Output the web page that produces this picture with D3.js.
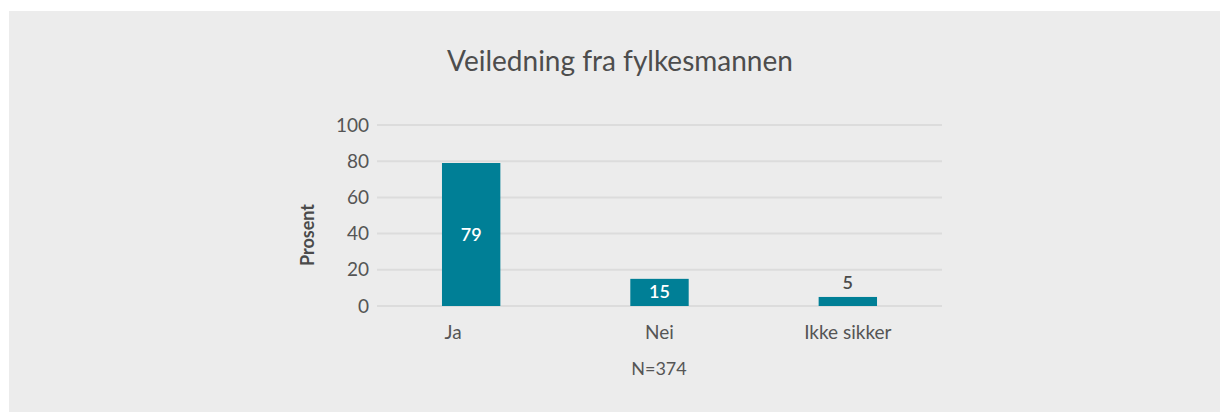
<!DOCTYPE html>
<html>
<head>
<meta charset="utf-8">
<script src="https://cdn.jsdelivr.net/npm/d3@7/dist/d3.min.js"></script>
<style>
  body { margin: 0; background: #ffffff; }
  svg { display: block; font-family: Lato, "Open Sans", sans-serif; }
</style>
</head>
<body>
<svg id="chart"></svg>
<script>
// ---------- data ----------
var categories = ["Ja", "Nei", "Ikke sikker"];
var values = [79, 15, 5];
var yTicks = [0, 20, 40, 60, 80, 100];
var titleText = "Veiledning fra fylkesmannen";
var yLabel = "Prosent";
var noteText = "N=374";

// ---------- setup ----------
var screen = {width: 1220, height: 412};
var margins = {left: 377, right: 278, top: 125, bottom: 106};
var graph = {
  width: screen.width - margins.left - margins.right,
  height: screen.height - margins.top - margins.bottom
};

var svg = d3.select("#chart")
  .attr("width", screen.width)
  .attr("height", screen.height);

// grey panel
svg.append("rect")
  .attr("x", 9).attr("y", 11)
  .attr("width", screen.width - 9)
  .attr("height", screen.height - 11)
  .attr("fill", "#ececec");

svg.append("text")
  .attr("x", 620).attr("y", 71)
  .attr("text-anchor", "middle")
  .attr("font-size", 28)
  .attr("fill", "#4d4d4d")
  .text(titleText);

var xScale = d3.scaleBand()
  .domain(categories)
  .range([0, graph.width])
  .paddingInner(0.69)
  .paddingOuter(0.345);

var yScale = d3.scaleLinear()
  .domain([0, 100])
  .range([graph.height, 0]);

var target = svg.append("g")
  .attr("transform", "translate(" + margins.left + "," + margins.top + ")");

// gridlines
target.selectAll("line.grid")
  .data(yTicks)
  .enter()
  .append("line")
  .attr("class", "grid")
  .attr("x1", 0).attr("x2", graph.width)
  .attr("y1", function(d) { return yScale(d); })
  .attr("y2", function(d) { return yScale(d); })
  .attr("stroke", "#dcdcdc")
  .attr("stroke-width", 2);

// y axis labels
var yAxis = d3.axisLeft(yScale).tickValues(yTicks).tickSize(0).tickPadding(8);
target.append("g")
  .call(yAxis)
  .call(function(g) { g.select(".domain").remove(); })
  .selectAll("text")
  .attr("font-size", 19)
  .attr("font-family", "Lato, 'Open Sans', sans-serif")
  .attr("fill", "#555555");

// x axis labels
var xAxis = d3.axisBottom(xScale).tickSize(0).tickPadding(20);
target.append("g")
  .attr("transform", "translate(0," + graph.height + ")")
  .call(xAxis)
  .call(function(g) { g.select(".domain").remove(); })
  .selectAll("text")
  .attr("font-size", 19)
  .attr("font-family", "Lato, 'Open Sans', sans-serif")
  .attr("fill", "#555555")
  .attr("dx", function(d, i) { return i == 0 ? -18 : 0; });

// bars
var data = categories.map(function(c, i) { return {cat: c, val: values[i]}; });

target.selectAll("rect.bar")
  .data(data)
  .enter()
  .append("rect")
  .attr("class", "bar")
  .attr("x", function(d) { return xScale(d.cat); })
  .attr("y", function(d) { return yScale(d.val); })
  .attr("width", xScale.bandwidth())
  .attr("height", function(d) { return graph.height - yScale(d.val); })
  .attr("fill", "#007f96");

// value labels
target.selectAll("text.val")
  .data(data)
  .enter()
  .append("text")
  .attr("class", "val")
  .attr("x", function(d) { return xScale(d.cat) + xScale.bandwidth() / 2; })
  .attr("y", function(d) {
    var h = graph.height - yScale(d.val);
    if (h > 22) return yScale(d.val) + h / 2 + 6;
    return yScale(d.val) - 8;
  })
  .attr("text-anchor", "middle")
  .attr("font-size", 18)
  .attr("font-weight", 600)
  .attr("fill", function(d) {
    return (graph.height - yScale(d.val)) > 22 ? "#ffffff" : "#4a4a4a";
  })
  .text(function(d) { return d.val; });

// y label
svg.append("text")
  .attr("transform", "translate(314,235) rotate(-90)")
  .attr("text-anchor", "middle")
  .attr("font-size", 18)
  .attr("font-weight", 700)
  .attr("fill", "#4a4a4a")
  .text(yLabel);

// note
svg.append("text")
  .attr("x", 659).attr("y", 375)
  .attr("text-anchor", "middle")
  .attr("font-size", 18)
  .attr("fill", "#555555")
  .text(noteText);
</script>
</body>
</html>
